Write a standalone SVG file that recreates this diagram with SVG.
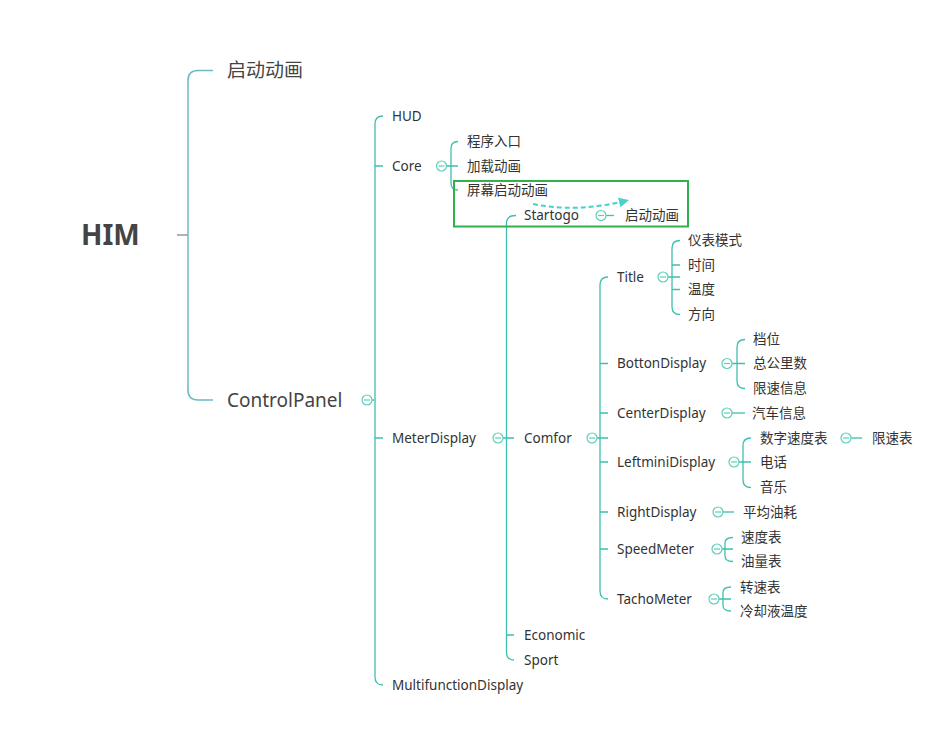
<svg xmlns="http://www.w3.org/2000/svg" width="937" height="750" viewBox="0 0 937 750">
<defs>
<style>
.t{font-family:"Noto Sans","Noto Sans CJK SC",sans-serif;font-size:13.5px;fill:#333}
.big{font-family:"Noto Sans","Noto Sans CJK SC",sans-serif;font-size:19px;fill:#444}
.root{font-family:"Noto Sans","Noto Sans CJK SC",sans-serif;font-size:28px;font-weight:bold;fill:#444}
.l1{fill:none;stroke:#6cb9c4;stroke-width:1.5}
.l{fill:none;stroke:#3fbfae;stroke-width:1.3}
.c{fill:#fff;stroke:#5ccfb9;stroke-width:1.2}
.m{stroke:#5ccfb9;stroke-width:1.2}
</style>
<marker id="ah" viewBox="0 0 10 10" refX="8" refY="5" markerWidth="5" markerHeight="5" orient="auto">
<path d="M0,0 L10,5 L0,10 z" fill="#45d3c8"/>
</marker>
<g id="col"><circle class="c" cx="0" cy="0" r="5"/><line class="m" x1="-3" y1="0" x2="3" y2="0"/></g>
</defs>
<rect width="937" height="750" fill="#fff"/>
<g id="connectors">
<path d="M177 235 H188" stroke="#888" stroke-width="1.3" fill="none"/>
<path class="l1" d="M213 70.5 H198 Q188 70.5 188 80.5 V390 Q188 400 198 400 H213"/>
<path class="l" d="M372 400 H375"/>
<path class="l" d="M383 116 Q375 116 375 124 V677 Q375 685 383 685 M375 166 H383 M375 438 H383"/>
<path class="l" d="M446 166 H458 M458 141.5 Q451 141.5 451 148.5 V183 Q451 190 458 190"/>
<path class="l" d="M503 438 H514 M516 215.5 Q506.5 215.5 506.5 223 V652 Q506.5 660 514 660 M506.5 635 H514"/>
<path class="l" d="M606 215.5 H614"/>
<path class="l" d="M597 438 H608 M608 277 Q600 277 600 285 V591 Q600 599 608 599 M600 363.5 H608 M600 413 H608 M600 462 H608 M600 512 H608 M600 549 H608"/>
<path class="l" d="M668 277 H680 M680 240.5 Q672 240.5 672 248 V307 Q672 314.5 680 314.5 M672 265 H680 M672 289.5 H680"/>
<path class="l" d="M732 363.5 H745 M745 339.5 Q737 339.5 737 347 V381 Q737 388.5 745 388.5"/>
<path class="l" d="M732 413 H745"/>
<path class="l" d="M739 462 H751 M751 438 Q743 438 743 445.5 V480 Q743 487.5 751 487.5"/>
<path class="l" d="M851 438 H862"/>
<path class="l" d="M723 512 H734"/>
<path class="l" d="M722 549 H733 M733 537.5 Q725 537.5 725 543 V556 Q725 561.5 733 561.5"/>
<path class="l" d="M719 599 H731 M731 587 Q723 587 723 592.5 V605.5 Q723 611 731 611"/>
<path d="M533 204 Q578 213 627 200.5" fill="none" stroke="#45d3c8" stroke-width="2" stroke-dasharray="5,3" marker-end="url(#ah)"/>
</g>
<rect x="454" y="181" width="234" height="45.5" fill="none" stroke="#2fb14e" stroke-width="2"/>
<g id="n-him"><text class="root" x="81" y="245">HIM</text></g>
<g id="n-qd"><text class="big" x="227" y="77">启动动画</text></g>
<g id="n-cp"><text class="big" x="227" y="406.5">ControlPanel</text><use href="#col" x="367" y="400"/></g>
<g id="n-hud"><text class="t" x="392" y="120.5">HUD</text></g>
<g id="n-core"><text class="t" x="392" y="170.5">Core</text><use href="#col" x="441.5" y="166"/></g>
<g id="n-cx"><text class="t" x="467" y="146">程序入口</text></g>
<g id="n-jz"><text class="t" x="467" y="170.5">加载动画</text></g>
<g id="n-pm"><text class="t" x="467" y="194.5">屏幕启动动画</text></g>
<g id="n-st"><text class="t" x="524" y="220">Startogo</text><use href="#col" x="601" y="215.5"/></g>
<g id="n-qd2"><text class="t" x="625" y="220">启动动画</text></g>
<g id="n-md"><text class="t" x="392" y="442.5">MeterDisplay</text><use href="#col" x="498" y="438"/></g>
<g id="n-mf"><text class="t" x="392" y="689.5">MultifunctionDisplay</text></g>
<g id="n-cf"><text class="t" x="524" y="442.5">Comfor</text><use href="#col" x="592" y="438"/></g>
<g id="n-ec"><text class="t" x="524" y="639.5">Economic</text></g>
<g id="n-sp"><text class="t" x="524" y="664.5">Sport</text></g>
<g id="n-title"><text class="t" x="617" y="281.5">Title</text><use href="#col" x="663" y="277"/></g>
<g id="n-yb"><text class="t" x="688" y="245">仪表模式</text></g>
<g id="n-sj"><text class="t" x="688" y="269.5">时间</text></g>
<g id="n-wd"><text class="t" x="688" y="294">温度</text></g>
<g id="n-fx"><text class="t" x="688" y="319">方向</text></g>
<g id="n-bd"><text class="t" x="617" y="368">BottonDisplay</text><use href="#col" x="727" y="363.5"/></g>
<g id="n-dw"><text class="t" x="753" y="344">档位</text></g>
<g id="n-zgl"><text class="t" x="753" y="368">总公里数</text></g>
<g id="n-xs"><text class="t" x="753" y="393">限速信息</text></g>
<g id="n-cd"><text class="t" x="617" y="417.5">CenterDisplay</text><use href="#col" x="727" y="413"/></g>
<g id="n-qc"><text class="t" x="752" y="417.5">汽车信息</text></g>
<g id="n-ld"><text class="t" x="617" y="466.5">LeftminiDisplay</text><use href="#col" x="734" y="462"/></g>
<g id="n-sz"><text class="t" x="760" y="442.5">数字速度表</text><use href="#col" x="846" y="438"/></g>
<g id="n-xsb"><text class="t" x="872" y="442.5">限速表</text></g>
<g id="n-dh"><text class="t" x="760" y="466.5">电话</text></g>
<g id="n-yy"><text class="t" x="760" y="492">音乐</text></g>
<g id="n-rd"><text class="t" x="617" y="516.5">RightDisplay</text><use href="#col" x="718" y="512"/></g>
<g id="n-pj"><text class="t" x="743" y="516.5">平均油耗</text></g>
<g id="n-sm"><text class="t" x="617" y="553.5">SpeedMeter</text><use href="#col" x="717" y="549"/></g>
<g id="n-sdb"><text class="t" x="741" y="542">速度表</text></g>
<g id="n-ylb"><text class="t" x="741" y="566">油量表</text></g>
<g id="n-tm"><text class="t" x="617" y="603.5">TachoMeter</text><use href="#col" x="714" y="599"/></g>
<g id="n-zsb"><text class="t" x="740" y="591.5">转速表</text></g>
<g id="n-lq"><text class="t" x="740" y="615.5">冷却液温度</text></g>
</svg>
